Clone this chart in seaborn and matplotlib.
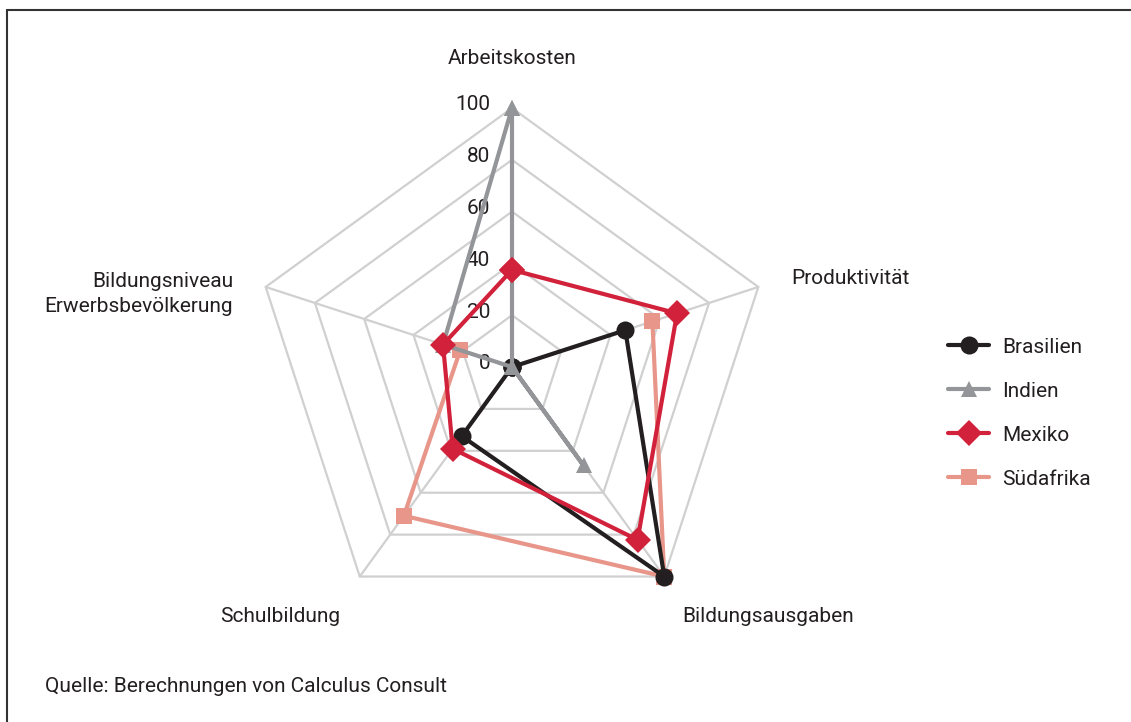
import numpy as np
import pandas as pd
import matplotlib
matplotlib.use("Agg")
import matplotlib.pyplot as plt
import matplotlib.transforms as mtransforms
from matplotlib.lines import Line2D
import seaborn as sns

# ---------------- data ----------------
categories = ["Arbeitskosten", "Produktivität", "Bildungsausgaben",
              "Schulbildung", "Bildungsniveau\nErwerbsbevölkerung"]
series_names = ["Brasilien", "Indien", "Mexiko", "Südafrika"]
brasilien = [0, 46, 100, 33, 0]
indien = [100, 0, 47, 0, 28]
mexiko = [37.5, 67, 82.5, 39, 28]
suedafrika = [np.nan, 57, 100, 71, 21]
tick_values = [0, 20, 40, 60, 80, 100]
source_text = "Quelle: Berechnungen von Calculus Consult"

colors = {"Brasilien": "#231f20", "Indien": "#939598",
          "Mexiko": "#d2213a", "Südafrika": "#e8958a"}
markers = {"Brasilien": "o", "Indien": "^", "Mexiko": "D", "Südafrika": "s"}
msizes = {"Brasilien": 13, "Indien": 12, "Mexiko": 13.5, "Südafrika": 12}
values = {"Brasilien": brasilien, "Indien": indien,
          "Mexiko": mexiko, "Südafrika": suedafrika}

sns.set_theme(style="white")
plt.rcParams["font.family"] = ["Liberation Sans Narrow", "DejaVu Sans Condensed",
                               "Roboto", "DejaVu Sans"]
FS = 15
TXT = "#231f20"

W, H = 1131, 722
fig = plt.figure(figsize=(W / 100, H / 100), dpi=100)

cx, cy, R = 512, 367, 259
ax = fig.add_axes([(cx - R) / W, (H - cy - R) / H, 2 * R / W, 2 * R / H],
                  projection="polar")
ax.set_theta_zero_location("N")
ax.set_theta_direction(-1)
ax.grid(False)
ax.spines["polar"].set_visible(False)
ax.set_facecolor("none")

n = len(categories)
angles = np.arange(n) * 2 * np.pi / n

# grid pentagons and spokes
grid_col = "#d0d0d0"
for lv in tick_values[1:]:
    ax.plot(np.append(angles, angles[0]), [lv] * (n + 1), color=grid_col,
            lw=1.6, zorder=1, clip_on=False)
for a in angles:
    ax.plot([a, a], [0, 100], color=grid_col, lw=1.6, zorder=1, clip_on=False)


def path_frame(vals):
    th = list(angles) + [angles[0]]
    rv = list(vals) + [vals[0]]
    seg, rows = 0, []
    for t, r in zip(th, rv):
        if r is None or (isinstance(r, float) and np.isnan(r)):
            seg += 1
            continue
        rows.append((t, r, seg))
    return pd.DataFrame(rows, columns=["theta", "r", "seg"])


draw_order = ["Südafrika", "Brasilien", "Indien", "Mexiko"]
for z, name in enumerate(draw_order):
    df = path_frame(values[name])
    sns.lineplot(data=df, x="theta", y="r", units="seg", estimator=None,
                 sort=False, ax=ax, color=colors[name], lw=3,
                 marker=markers[name], markersize=msizes[name],
                 markeredgecolor=colors[name], markeredgewidth=0,
                 legend=False, clip_on=False, zorder=3 + z)

ax.set_ylim(0, 100)
ax.set_xticks([])
ax.set_yticks([])
ax.set_xlabel("")
ax.set_ylabel("")

# radial tick labels
off = mtransforms.offset_copy(ax.transData, fig=fig, x=-22, y=3, units="dots")
for v in tick_values:
    ax.text(0, v, str(v), transform=off, ha="right", va="center",
            fontsize=FS, color=TXT)

# category labels (pixel positions)
def ftext(x, y, s, **kw):
    fig.text(x / W, 1 - y / H, s, fontsize=FS, color=TXT, **kw)

ftext(512, 58, categories[0], ha="center", va="center")
ftext(791, 279, categories[1], ha="left", va="center")
ftext(768, 617, categories[2], ha="center", va="center")
ftext(280, 617, categories[3], ha="center", va="center")
ftext(233, 294, categories[4], ha="right", va="center", linespacing=1.35,
      multialignment="right")
ftext(45, 686, source_text, ha="left", va="center")

# legend
handles = [Line2D([], [], color=colors[s], lw=3, marker=markers[s],
                  markersize=msizes[s], markeredgewidth=0) for s in series_names]
fig.legend(handles, series_names, loc="upper left",
           bbox_to_anchor=(929 / W, 1 - 319 / H), frameon=False,
           fontsize=FS, handlelength=2.0, handletextpad=0.6,
           labelspacing=1.2, labelcolor=TXT)

# frame (top and left edges)
fig.add_artist(Line2D([7 / W, 7 / W], [0, 1 - 10 / H], transform=fig.transFigure,
                      color="#333333", lw=1.5))
fig.add_artist(Line2D([7 / W, 1], [1 - 10 / H, 1 - 10 / H], transform=fig.transFigure,
                      color="#333333", lw=1.5))

fig.savefig("out.png", dpi=100, facecolor="white")
